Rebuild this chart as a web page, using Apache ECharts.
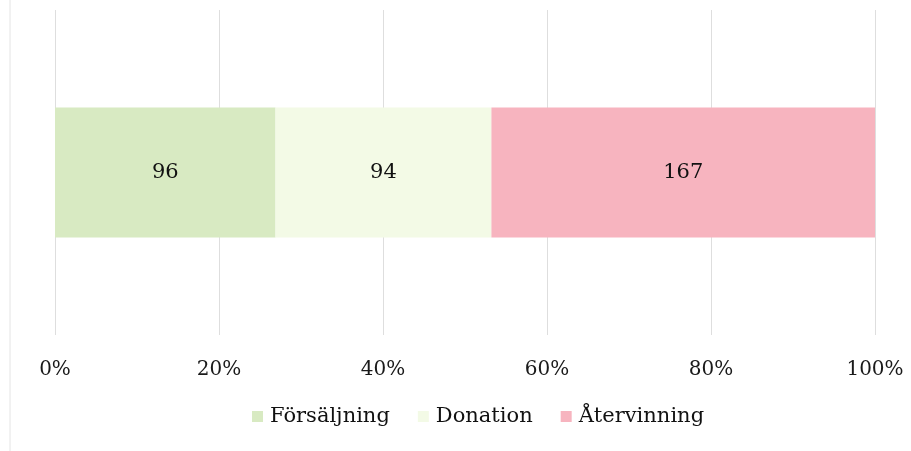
<!DOCTYPE html>
<html>
<head>
<meta charset="utf-8">
<script src="https://cdn.jsdelivr.net/npm/echarts@6/dist/echarts.min.js"></script>
<style>
html,body{margin:0;padding:0;background:#fff;}
#chart{width:911px;height:451px;}
</style>
</head>
<body>
<div id="chart"></div>
<script>
const categories = ['Total'];
const seriesNames = ['Försäljning', 'Donation', 'Återvinning'];
const forsaljning = [96];
const donation = [94];
const atervinning = [167];
const tickLabels = ['0%', '20%', '40%', '60%', '80%', '100%'];
const colors = ['#d8eac2', '#f3fae6', '#f7b4bf'];

const raw = [forsaljning, donation, atervinning];
const totals = categories.map((c, i) => raw.reduce((s, arr) => s + arr[i], 0));

const font = '"DejaVu Serif", serif';
const chart = echarts.init(document.getElementById('chart'));
chart.setOption({
  animation: false,
  backgroundColor: '#fff',
  textStyle: { fontFamily: font },
  grid: { left: 55, right: 36, top: 10, bottom: 116, containLabel: false },
  legend: {
    bottom: 19,
    left: 247,
    itemWidth: 11,
    itemHeight: 11,
    itemGap: 28,
    icon: 'rect',
    textStyle: { fontFamily: font, fontSize: 21, color: '#111', padding: [0, 0, 0, 2] },
    data: seriesNames
  },
  xAxis: {
    type: 'value',
    min: 0,
    max: 100,
    interval: 20,
    axisLine: { show: false },
    axisTick: { show: false },
    splitLine: { show: true, lineStyle: { color: '#dedede', width: 1 } },
    axisLabel: {
      margin: 25,
      fontFamily: font,
      fontSize: 20,
      color: '#1a1a1a',
      formatter: function (v) { return tickLabels[Math.round(v / 20)]; }
    }
  },
  yAxis: {
    type: 'category',
    data: categories,
    axisLine: { show: false },
    axisTick: { show: false },
    axisLabel: { show: false }
  },
  graphic: [{
    type: 'line',
    shape: { x1: 10, y1: 0, x2: 10, y2: 451 },
    style: { stroke: '#e4e4e4', lineWidth: 1 }
  }],
  series: raw.map((arr, k) => ({
    name: seriesNames[k],
    type: 'bar',
    stack: 'total',
    barWidth: '40%',
    itemStyle: { color: colors[k] },
    label: {
      show: true,
      position: 'inside',
      fontFamily: font,
      fontSize: 21,
      color: '#111',
      formatter: function (p) { return arr[p.dataIndex]; }
    },
    data: arr.map((v, i) => v / totals[i] * 100)
  }))
});
</script>
</body>
</html>
